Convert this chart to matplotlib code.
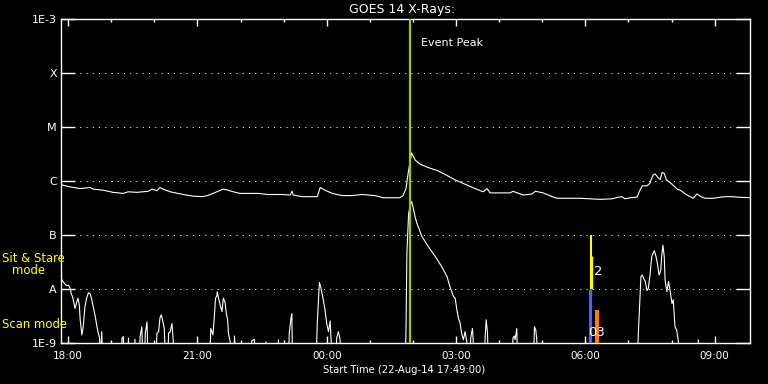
import matplotlib
matplotlib.use("Agg")
import matplotlib.pyplot as plt
import numpy as np
from matplotlib.ticker import FixedLocator, NullLocator

# ---------------- data (time = hours after 22-Aug-14 18:00 UT, log10 flux W/m^2) -------------
long_t = [-0.16, 0.05, 0.28, 0.51, 0.58, 0.81, 1.04, 1.28, 1.39, 1.60, 1.86, 1.95, 2.06, 2.13,
          2.20, 2.37, 2.67, 2.90, 3.11, 3.23, 3.36, 3.60, 3.71, 3.83, 3.99, 4.18, 4.41, 4.64,
          4.97, 5.15, 5.20, 5.22, 5.43, 5.78, 5.85, 5.96, 6.13, 6.36, 6.59, 6.82, 7.12, 7.31,
          7.70, 7.77, 7.84, 7.89, 7.94, 7.97, 8.05, 8.17, 8.35, 8.58, 8.75, 8.98, 9.21, 9.44,
          9.63, 9.72, 9.79, 10.14, 10.26, 10.32, 10.56, 10.77, 10.84, 11.02, 11.23, 11.35,
          11.88, 12.34, 12.62, 12.76, 12.85, 12.92, 13.04, 13.20, 13.25, 13.32, 13.43, 13.50,
          13.57, 13.62, 13.69, 13.74, 13.78, 13.83, 13.88, 13.97, 14.13, 14.20, 14.36, 14.50,
          14.59, 14.66, 14.78, 14.97, 15.13, 15.24, 15.41, 15.55, 15.82]
long_log = [-6.07, -6.11, -6.14, -6.12, -6.15, -6.17, -6.21, -6.23, -6.20, -6.21, -6.19, -6.15,
            -6.18, -6.12, -6.15, -6.20, -6.25, -6.28, -6.29, -6.27, -6.23, -6.15, -6.17, -6.20,
            -6.23, -6.23, -6.23, -6.25, -6.25, -6.26, -6.19, -6.26, -6.29, -6.29, -6.12, -6.17,
            -6.23, -6.27, -6.27, -6.25, -6.27, -6.31, -6.31, -6.27, -6.14, -5.85, -5.61, -5.48,
            -5.61, -5.69, -5.75, -5.81, -5.88, -5.98, -6.06, -6.14, -6.20, -6.14, -6.22, -6.22,
            -6.22, -6.19, -6.26, -6.24, -6.19, -6.22, -6.29, -6.32, -6.32, -6.34, -6.33, -6.30,
            -6.29, -6.33, -6.31, -6.30, -6.20, -6.09, -6.09, -6.04, -5.89, -5.87, -5.94, -5.97,
            -5.84, -5.86, -5.98, -6.03, -6.15, -6.17, -6.26, -6.32, -6.24, -6.28, -6.32, -6.32,
            -6.30, -6.29, -6.29, -6.30, -6.31]

short_t = [-0.15, -0.12, -0.07, -0.03, 0.01, 0.05, 0.07, 0.10, 0.12, 0.16, 0.20, 0.23, 0.26,
           0.28, 0.32, 0.35, 0.39, 0.43, 0.47, 0.51, 0.55, 0.59, 0.63, 0.67, 0.70, 0.73, 0.74,
           0.78, 0.81, 1.23, 1.25, 1.28, 1.30, 1.38, 1.40, 1.42, 1.53, 1.55, 1.57, 1.65, 1.67,
           1.71, 1.74, 1.77, 1.79, 1.83, 1.86, 2.03, 2.06, 2.10, 2.13, 2.16, 2.19, 2.23, 2.27,
           2.31, 2.33, 2.37, 2.41, 2.44, 2.47, 3.28, 3.31, 3.36, 3.39, 3.42, 3.45, 3.46, 3.49,
           3.53, 3.57, 3.60, 3.64, 3.67, 3.70, 3.72, 3.76, 3.81, 3.84, 3.86, 3.90, 4.24, 4.26,
           4.32, 4.35, 4.57, 4.59, 4.61, 4.86, 4.88, 4.90, 5.11, 5.13, 5.17, 5.19, 5.21, 5.75,
           5.78, 5.83, 5.86, 5.89, 5.92, 5.96, 6.00, 6.04, 6.08, 6.10, 6.15, 6.21, 6.23, 6.27,
           6.31, 6.35, 7.82, 7.84, 7.86, 7.90, 7.96, 7.97, 8.01, 8.05, 8.09, 8.21, 8.36, 8.52,
           8.67, 8.79, 8.86, 8.94, 8.98, 9.02, 9.06, 9.09, 9.13, 9.17, 9.21, 9.25, 9.28, 9.32,
           9.34, 9.38, 9.40, 9.43, 9.64, 9.68, 9.70, 9.73, 9.75, 10.29, 10.32, 10.35, 10.37,
           10.41, 10.43, 10.79, 10.82, 10.85, 10.87, 10.91, 13.20, 13.23, 13.26, 13.29, 13.32,
           13.35, 13.39, 13.43, 13.46, 13.50, 13.54, 13.60, 13.64, 13.67, 13.71, 13.75, 13.77,
           13.80, 13.83, 13.85, 13.89, 13.93, 13.97, 14.01, 14.04, 14.08, 14.12, 14.16, 14.20,
           14.60, 14.62, 14.64, 15.82]
short_log = [-7.82, -7.86, -7.91, -7.94, -7.93, -7.99, -8.08, -8.14, -8.20, -8.36, -8.24, -8.17,
             -8.30, -8.57, -8.85, -8.70, -8.33, -8.17, -8.07, -8.09, -8.20, -8.36, -8.51, -8.70,
             -8.82, -8.91, -9.5, -8.79, -9.5, -9.5, -8.91, -8.88, -9.5, -9.5, -8.91, -9.5, -9.5,
             -8.93, -9.5, -9.5, -8.88, -8.70, -9.5, -9.5, -8.82, -8.61, -9.5, -9.5, -8.82, -8.79,
             -8.54, -8.48, -8.57, -8.73, -9.5, -9.5, -8.82, -8.79, -8.64, -8.98, -9.5, -9.5,
             -8.73, -8.85, -8.54, -8.17, -8.13, -8.05, -8.17, -8.30, -8.42, -8.17, -8.24, -8.45,
             -8.57, -8.82, -8.98, -9.5, -9.5, -8.87, -9.5, -9.5, -8.96, -8.93, -9.5, -9.5, -8.98,
             -9.5, -9.5, -8.94, -9.5, -9.5, -8.82, -8.54, -8.46, -9.5, -9.5, -8.64, -7.88, -7.96,
             -8.08, -8.20, -8.39, -8.64, -8.79, -8.59, -8.94, -9.5, -9.5, -8.91, -8.79, -8.94,
             -9.5, -9.5, -8.70, -7.33, -6.60, -6.38, -6.38, -6.51, -6.66, -6.78, -7.03, -7.22,
             -7.40, -7.59, -7.77, -7.96, -8.14, -8.17, -8.39, -8.56, -8.61, -8.82, -8.94, -8.79,
             -8.98, -9.5, -9.5, -8.91, -8.73, -8.98, -9.5, -9.5, -8.82, -8.57, -8.82, -9.5, -9.5,
             -8.91, -8.87, -8.94, -8.73, -9.5, -9.5, -8.70, -8.76, -8.91, -9.5, -9.5, -8.81,
             -8.27, -7.77, -7.74, -7.80, -7.86, -8.03, -7.99, -7.74, -7.40, -7.29, -7.40, -7.52,
             -7.74, -7.65, -7.40, -7.19, -7.40, -7.83, -8.05, -7.86, -8.05, -8.27, -8.20, -8.70,
             -8.76, -8.98, -9.5, -9.5, -8.94, -9.5, -9.5]

event_peak_t = 7.935

# observation-mode markers: (time, log10 low, log10 high, colour)
mode_t = [12.10, 12.135, 12.165, 12.27]
mode_lo = [-9.0, -8.0, -8.0, -9.0]
mode_hi = [-8.0, -7.0, -7.39, -8.39]
mode_colors = ["#5a5aff", "#ffff00", "#ffff00", "#ff8000"]
mode_widths = [2.2, 1.5, 1.0, 2.9]

level_values = [1e-9, 1e-8, 1e-7, 1e-6, 1e-5, 1e-4, 1e-3]
level_labels = ["1E-9", "A", "B", "C", "M", "X", "1E-3"]
xtick_major = [0, 3, 6, 9, 12, 15]
xtick_labels = ["18:00", "21:00", "00:00", "03:00", "06:00", "09:00"]
xtick_minor = list(range(0, 16))

# ---------------- figure ---------------------------------------------------------------
W, H = 768, 384
fig = plt.figure(figsize=(W / 100, H / 100), dpi=100, facecolor="black")
ax = fig.add_axes([61 / W, 41 / H, 689 / W, 324 / H])
ax.set_facecolor("black")
ax.set_yscale("log")
ax.set_ylim(1e-9, 1e-3)
ax.set_xlim(-0.165, 15.82)

for lev in level_values[1:-1]:
    ax.axhline(lev, color="white", lw=0.75, ls=(0, (1, 5)), zorder=1)

ax.plot(long_t, 10 ** np.array(long_log), color="white", lw=0.8, zorder=3)
ax.plot(short_t, 10 ** np.array(short_log), color="white", lw=0.8, zorder=3)

ax.axvline(event_peak_t, color="#9ccc00", lw=1.6, zorder=4)
ax.annotate("Event Peak", xy=(event_peak_t, 1 - 24 / 324), xycoords=ax.get_xaxis_transform(),
            xytext=(7.7, 0), textcoords="offset points", color="white", fontsize=8,
            va="center", ha="left")

for t, lo, hi, c, w in zip(mode_t, mode_lo, mode_hi, mode_colors, mode_widths):
    ax.vlines(t, 10 ** lo, 10 ** hi, color=c, lw=w, zorder=5)
ax.text(12.31, 10 ** -7.667, "2", color="white", fontsize=9.5, ha="center", va="center", zorder=6)
ax.text(12.25, 10 ** -8.80, "03", color="white", fontsize=9.5, ha="center", va="center", zorder=6)

# axes styling
for s in ax.spines.values():
    s.set_color("white")
    s.set_linewidth(1.0)
ax.yaxis.set_major_locator(FixedLocator(level_values))
ax.yaxis.set_minor_locator(NullLocator())
ax.set_yticklabels(level_labels)
ax.tick_params(axis="y", which="major", direction="in", length=10, width=1.0, color="white",
               labelcolor="white", left=True, right=True, labelsize=8, pad=3)
ax.xaxis.set_major_locator(FixedLocator(xtick_major))
ax.xaxis.set_minor_locator(FixedLocator(xtick_minor))
ax.set_xticklabels(xtick_labels)
ax.tick_params(axis="x", which="major", direction="in", length=5, width=1.0, color="white",
               labelcolor="white", top=True, bottom=True, labelsize=7.5, pad=6)
ax.tick_params(axis="x", which="minor", direction="in", length=2.3, width=1.0, color="white",
               top=True, bottom=True)

# figure texts
fig.text(402 / W, 1 - 10 / H, "GOES 14 X-Rays:", color="white", fontsize=9, ha="center", va="center")
fig.text(404 / W, 1 - 370 / H, "Start Time (22-Aug-14 17:49:00)", color="white", fontsize=7.2,
         ha="center", va="center")
fig.text(2 / W, 1 - 259 / H, "Sit & Stare", color="#ffff00", fontsize=8.4, ha="left", va="center")
fig.text(12 / W, 1 - 271 / H, "mode", color="#ffff00", fontsize=8.4, ha="left", va="center")
fig.text(2 / W, 1 - 324 / H, "Scan mode", color="#ffff00", fontsize=8.4, ha="left", va="center")

fig.savefig("out.png", dpi=100, facecolor="black")
